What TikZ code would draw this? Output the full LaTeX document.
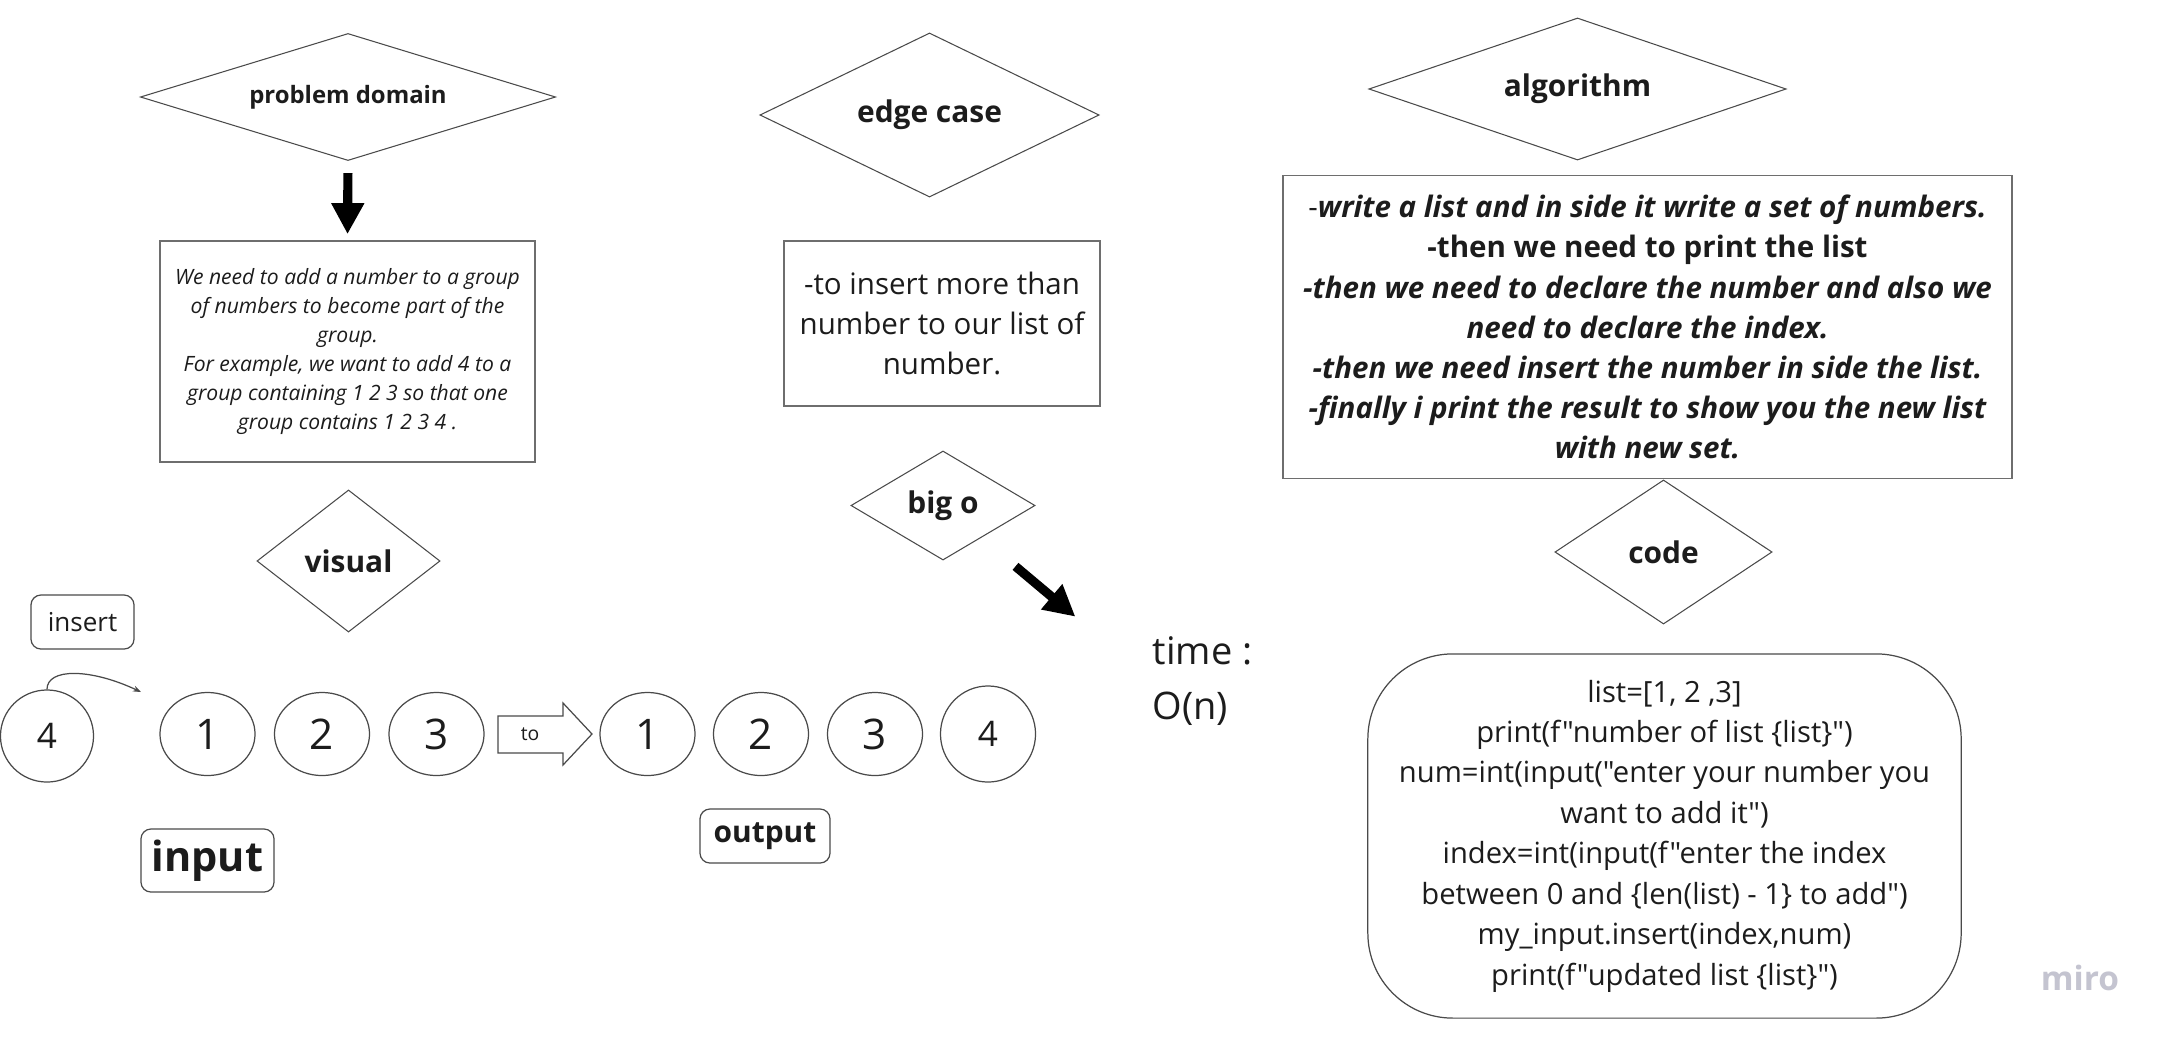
\documentclass[tikz,border=0pt]{standalone}
\usepackage{fontspec}
\setmainfont{Open Sans}[Ligatures=TeXOff]
\usetikzlibrary{shapes.geometric,arrows.meta,calc}
\definecolor{ink}{HTML}{1C1C1C}
\definecolor{edgec}{HTML}{4A4A4A}
\definecolor{boxline}{HTML}{6E6E6E}
\definecolor{mirogray}{HTML}{C4C4D0}
\begin{document}
\begin{tikzpicture}[x=0.01cm,y=-0.01cm,
  every node/.style={text=ink, inner sep=0pt},
  dia/.style={diamond, draw=edgec, line width=0.3pt, inner sep=0pt, font=\fontsize{8.5}{10}\selectfont\bfseries},
  rbox/.style={rectangle, draw=boxline, line width=0.45pt, align=center},
  circ/.style={ellipse, draw=edgec, line width=0.35pt, minimum width=0.95cm, minimum height=0.83cm, font=\fontsize{12}{14}\selectfont},
  bigarrow/.style={line width=2.6pt, -{Triangle[width=0.31cm,length=0.31cm]}},
  lbl/.style={rectangle, rounded corners=0.1cm, draw=edgec, line width=0.35pt},
  thinline/.style={draw=edgec, line width=0.35pt}
]
\fill[white] (0,0) rectangle (2164,1039);
\useasboundingbox (0,0) rectangle (2164,1039);

% problem domain column
\node[dia, shape aspect=3.27, minimum width=4.15cm, minimum height=1.27cm, font=\fontsize{6.8}{8}\selectfont\bfseries] (pd) at (348,97) {problem domain};
\node[rbox, minimum width=3.75cm, minimum height=2.21cm, font=\fontsize{6.0}{8.25}\selectfont\itshape] (pbox) at (347.5,351.5)
  {We need to add a number to a group\\of numbers to become part of the\\group.\\For example, we want to add 4 to a\\group containing 1 2 3 so that one\\group contains 1 2 3 4 .};
\draw[bigarrow, shorten <=0.12cm, shorten >=0.06cm] (pd.south) -- (pbox.north);
\node[dia, shape aspect=1.29, minimum width=1.83cm, minimum height=1.42cm] (vis) at (348.5,561) {visual};

% edge case column
\node[dia, shape aspect=2.07, minimum width=3.39cm, minimum height=1.64cm] (ec) at (929.5,115) {edge case};
\node[rbox, minimum width=3.16cm, minimum height=1.65cm, font=\fontsize{8.4}{11.4}\selectfont] (ebox) at (942,323.5)
  {-to insert more than\\number to our list of\\number.};
\node[dia, shape aspect=1.69, minimum width=1.84cm, minimum height=1.09cm] (bigo) at (943,505.5) {big o};
\node[anchor=west, align=left, font=\fontsize{10.8}{15.4}\selectfont] (time) at (1152,681) {time :\\O(n)};
\draw[bigarrow, shorten <=0.445cm, shorten >=1.0cm] (bigo) -- (time.west);

% algorithm column
\node[dia, shape aspect=2.94, minimum width=4.17cm, minimum height=1.42cm] (alg) at (1577.5,89) {algorithm};
\node[rbox, minimum width=7.29cm, minimum height=3.03cm, font=\fontsize{8.4}{11.4}\selectfont\bfseries\itshape] (abox) at (1647.5,327)
  {{\mdseries\upshape -}write a list and in side it write a set of numbers.\\{\upshape -then we need to print the list}\\-then we need to declare the number and also we\\need to declare the index.\\-then we need insert the number in side the list.\\-finally i print the result to show you the new list\\with new set.};
\node[dia, shape aspect=1.5, minimum width=2.17cm, minimum height=1.44cm] (code) at (1663.5,552) {code};
\node[rectangle, draw=edgec, line width=0.35pt, rounded corners=0.85cm, minimum width=5.93cm, minimum height=3.64cm, align=center, font=\fontsize{8.3}{11.5}\selectfont] (cbox) at (1664.5,836)
  {list=[1, 2 ,3]\\print(f"number of list \{list\}")\\num=int(input("enter your number you\\want to add it")\\index=int(input(f"enter the index\\between 0 and \{len(list) - 1\} to add")\\my\_input.insert(index,num)\\print(f"updated list \{list\}")};
\node[font=\fontsize{9.5}{11}\selectfont\bfseries, text=mirogray] (miro) at (2080,978) {miro};

% visual row
\node[lbl, minimum width=1.03cm, minimum height=0.54cm, font=\fontsize{7.4}{9}\selectfont] (ins) at (82.5,622) {insert};
\node[circ, minimum width=0.93cm, minimum height=0.92cm, font=\fontsize{10}{12}\selectfont] (n4) at (47,736) {4};
\node[circ] (a1) at (207.5,734) {1};
\node[circ] (a2) at (322,734) {2};
\node[circ] (a3) at (436.5,734) {3};
\draw[thinline] (498,716) -- (563,716) -- (563,703) -- (592,734) -- (563,765) -- (563,753) -- (498,753) -- cycle;
\node[font=\fontsize{5.5}{7}\selectfont] (to) at (530,734) {to};
\node[circ] (b1) at (647.5,734) {1};
\node[circ] (b2) at (761,734) {2};
\node[circ] (b3) at (875,734) {3};
\node[circ, minimum height=0.96cm, font=\fontsize{10}{12}\selectfont] (b4) at (988,734) {4};
\coordinate (insEnd) at (141,692);
\draw[thinline, -{Stealth[length=0.08cm,width=0.06cm]}] (n4.north) .. controls (47,668) and (90,668) .. (insEnd);
\node[lbl, minimum width=1.33cm, minimum height=0.63cm, font=\fontsize{11.8}{14}\selectfont\bfseries] (inp) at (207.5,860.5) {input};
\node[lbl, minimum width=1.30cm, minimum height=0.54cm, font=\fontsize{8.5}{10}\selectfont\bfseries] (outp) at (765,836) {output};
\end{tikzpicture}
\end{document}
